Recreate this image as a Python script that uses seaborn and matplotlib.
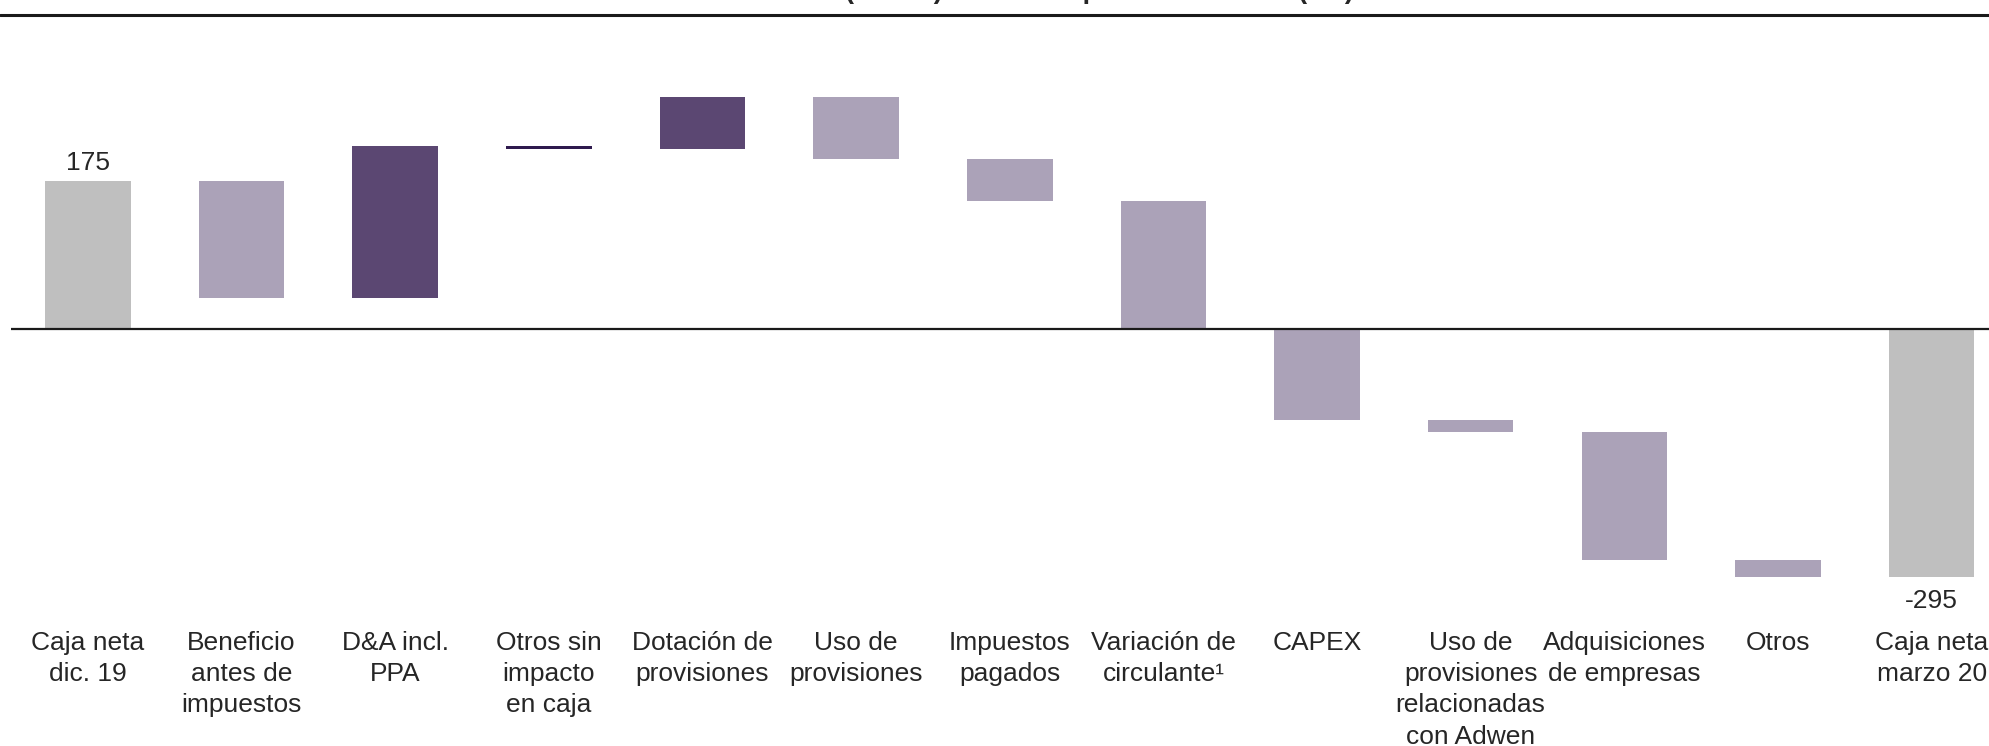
import numpy as np
import pandas as pd
import seaborn as sns
import matplotlib.pyplot as plt
from matplotlib.lines import Line2D
from matplotlib import transforms

# waterfall data (M€)
categories = [
    "Caja neta\ndic. 19", "Beneficio\nantes de\nimpuestos", "D&A incl.\nPPA",
    "Otros sin\nimpacto\nen caja", "Dotación de\nprovisiones", "Uso de\nprovisiones",
    "Impuestos\npagados", "Variación de\ncirculante¹", "CAPEX",
    "Uso de\nprovisiones\nrelacionadas\ncon Adwen", "Adquisiciones\nde empresas",
    "Otros", "Caja neta\nmarzo 20",
]
start_cash = 175
flows = [-139, 181, -4, 62, -73, -50, -152, -108, -15, -151, -21]
end_cash = -295
bar_kind = ["total", "neg", "pos", "other", "pos", "neg", "neg",
            "neg", "neg", "neg", "neg", "neg", "total"]

kind_colors = {"total": "#BFBFBF", "neg": "#ABA2B8", "pos": "#5B4772", "other": "#2F1A4E"}

# bar heights and floating bottoms
levels = start_cash + np.cumsum([0] + flows)
heights = [start_cash] + flows + [end_cash]
bottoms = [0] + list(levels[:-1]) + [0]
df = pd.DataFrame({"cat": categories, "h": heights})

sns.set_style("white")
plt.rcParams["font.family"] = ["Liberation Sans", "DejaVu Sans"]

W, H = 1990, 746
fig = plt.figure(figsize=(W / 100, H / 100), dpi=100)
ax = fig.add_axes([11 / W, 0, 1 - 11 / W, 1])

sns.barplot(data=df, x="cat", y="h", bottom=bottoms, width=0.557,
            color="#BFBFBF", saturation=1, errorbar=None, ax=ax)
for patch, kind in zip(ax.patches, bar_kind):
    patch.set_facecolor(kind_colors[kind])
    patch.set_edgecolor("none")

# scale: zero line ~329 px from top, 0.8425 px per unit
px_per_unit = 0.8425
zero_px = 328.7
ax.set_ylim(-(H - zero_px) / px_per_unit, zero_px / px_per_unit)
ax.set_xlim(-0.5, -0.5 + (W - 11) / 153.65)
ax.axhline(0, color="#1a1a1a", lw=1.6, zorder=3)
ax.set_axis_off()

# value labels on the two totals
ax.text(0, start_cash + 11 / px_per_unit, f"{start_cash}", ha="center",
        va="baseline", fontsize=19)
ax.text(len(categories) - 1, end_cash - 31 / px_per_unit, f"{end_cash}",
        ha="center", va="baseline", fontsize=19)

# category labels below the chart
trans = transforms.blended_transform_factory(ax.transData, fig.transFigure)
for i, lab in enumerate(categories):
    ax.text(i, 1 - 631 / H, lab, transform=trans, ha="center", va="top",
            fontsize=19, linespacing=1.38, multialignment="center")

# top rule and the (cropped) title above it
fig.add_artist(Line2D([0, 1], [1 - 14.5 / H, 1 - 14.5 / H], color="#1a1a1a",
                      lw=2.2, transform=fig.transFigure))
title_pre = "Evolución de la"
title = title_pre + " (deuda) neta en el primer trimestre (M€)"
fig.canvas.draw()
r = fig.canvas.get_renderer()
tmp = fig.text(0, 0, title_pre, fontsize=19.5, weight="bold")
pre_w = tmp.get_window_extent(r).width
tmp.remove()
space_w = 0.278 * 19.5 * 100 / 72
fig.text((845 - pre_w - space_w) / W, 1 + 2 / H, title, fontsize=19.5,
         weight="bold", ha="left", va="baseline")

fig.savefig("out.png", dpi=100)
